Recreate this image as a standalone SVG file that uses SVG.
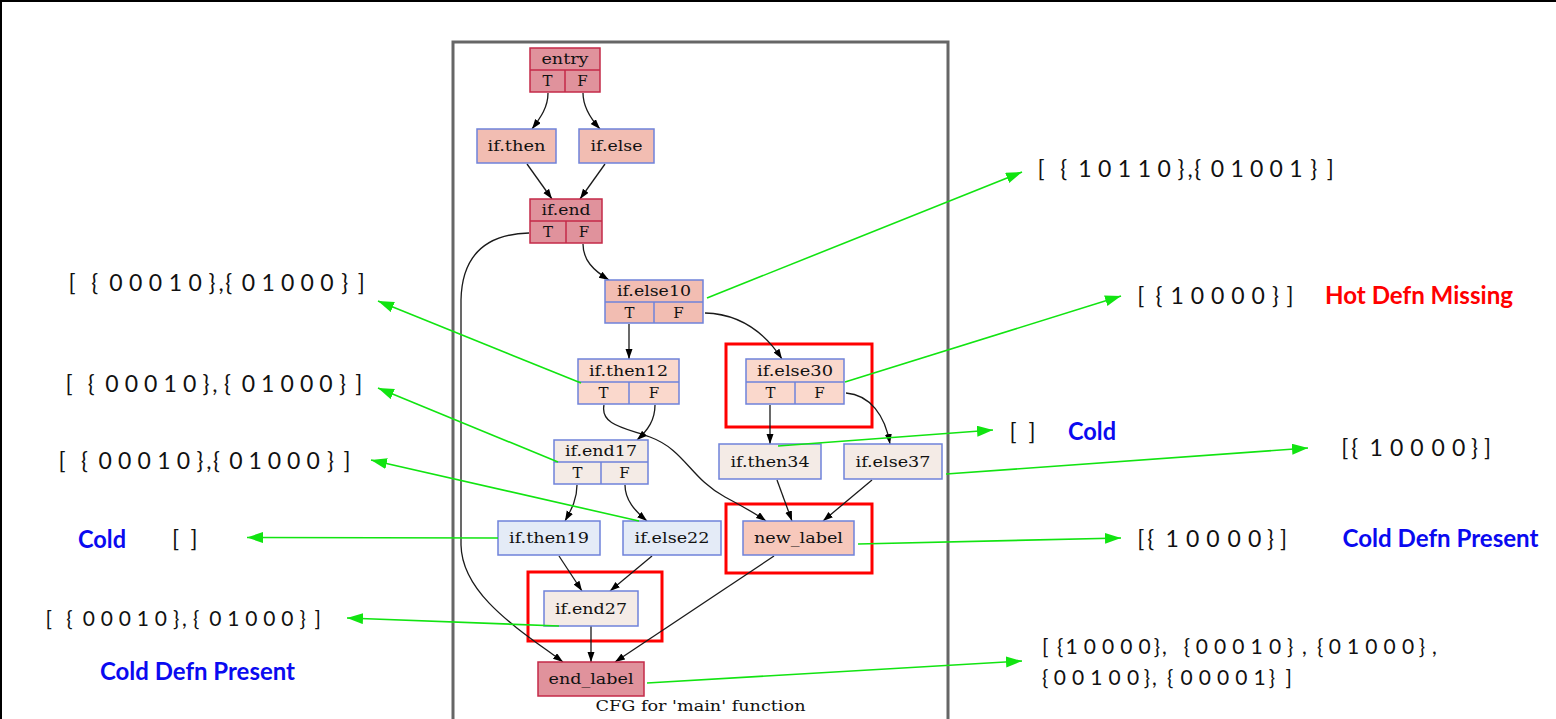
<svg xmlns="http://www.w3.org/2000/svg" width="1556" height="719" viewBox="0 0 1556 719">
<defs>
<marker id="ah" markerUnits="userSpaceOnUse" markerWidth="11" markerHeight="8" refX="10" refY="3.5" orient="auto"><path d="M0,0 L10,3.5 L0,7 z" fill="#000"/></marker>
<marker id="gh" markerUnits="userSpaceOnUse" markerWidth="17" markerHeight="12" refX="16" refY="5.5" orient="auto"><path d="M0,0 L16,5.5 L0,11 z" fill="#11e411"/></marker>
</defs>
<style>
.nd{stroke:#6f82da;stroke-width:1.5}
.red{fill:#e0929c;stroke:#c42a48;stroke-width:1.5}
.sal{fill:#f2bdb2}
.pch{fill:#fad8cc}
.nl{fill:#f7c8bb}
.lt{fill:#f4ebe6}
.bl{fill:#e4ebf7}
.div{stroke-width:1.5;fill:none}
.lab{font-family:"DejaVu Serif",serif;font-size:15px;fill:#111;text-anchor:middle}
.e{fill:none;stroke:#1a1a1a;stroke-width:1.3;marker-end:url(#ah)}
.g{fill:none;stroke:#11e411;stroke-width:1.6;marker-end:url(#gh)}
.t{font-family:Lato,"Open Sans",sans-serif;fill:#111;font-size:23px}
.s{font-size:21px}
.b{font-family:Lato,"Open Sans",sans-serif;font-weight:bold;font-size:24px}
.hl{fill:none;stroke:#ff0000;stroke-width:3}
</style>
<rect x="0" y="0" width="1556" height="719" fill="#fff"/>
<path d="M1,719 L1,1 L1556,1" fill="none" stroke="#000" stroke-width="2"/>
<path d="M453,719 L453,42 L948,42 L948,719" fill="none" stroke="#666" stroke-width="3"/>
<text class="lab" x="700.5" y="711" textLength="210" lengthAdjust="spacingAndGlyphs" style="font-size:14px">CFG for 'main' function</text>

<g id="highlights">
<rect class="hl" x="726" y="344" width="146" height="83"/>
<rect class="hl" x="726" y="504" width="146" height="69"/>
<rect class="hl" x="528" y="572" width="134" height="69"/>
</g>

<g id="connectors">
<path class="e" d="M548,93 C548,107 541,117 532,129"/>
<path class="e" d="M583,93 C583,107 590,118 600,129"/>
<path class="e" d="M527,164 L552,199"/>
<path class="e" d="M605,164 L580,199"/>
<path class="e" d="M529,233 C490,234 462,252 461,300 L461,545 C462,595 520,630 563,662"/>
<path class="e" d="M583,244 C583,260 593,270 609,280"/>
<path class="e" d="M629,324 L629,359"/>
<path class="e" d="M705,313 C740,314 765,333 782,359"/>
<path class="e" d="M604,405 C600,425 625,428 650,437 C685,450 690,478 725,497 C740,505 755,513 766,521"/>
<path class="e" d="M655,405 C655,420 648,430 637,440"/>
<path class="e" d="M770,405 L770,444"/>
<path class="e" d="M846,393 C870,395 885,415 890,444"/>
<path class="e" d="M577,485 C577,500 571,510 565,521"/>
<path class="e" d="M625,485 C625,500 635,511 647,521"/>
<path class="e" d="M777,480 L792,521"/>
<path class="e" d="M872,480 L823,521"/>
<path class="e" d="M559,556 L582,591"/>
<path class="e" d="M652,556 L610,591"/>
<path class="e" d="M591,626 L591,662"/>
<path class="e" d="M774,556 L615,662"/>
</g>

<g id="node-entry">
<rect class="red" x="530" y="48" width="70" height="44"/>
<path d="M530,70 H600 M565,70 V92" stroke="#c42a48" class="div"/>
<text class="lab" x="565" y="64" textLength="47" lengthAdjust="spacingAndGlyphs">entry</text>
<text class="lab" x="547.5" y="86">T</text><text class="lab" x="582.5" y="86">F</text>
</g>
<g id="node-if.then">
<rect class="nd sal" x="477" y="129" width="79" height="34"/>
<text class="lab" x="516.5" y="151" textLength="58" lengthAdjust="spacingAndGlyphs">if.then</text>
</g>
<g id="node-if.else">
<rect class="nd sal" x="579" y="129" width="75" height="34"/>
<text class="lab" x="616.5" y="151" textLength="52" lengthAdjust="spacingAndGlyphs">if.else</text>
</g>
<g id="node-if.end">
<rect class="red" x="530" y="199" width="72" height="44"/>
<path d="M530,221 H602 M566,221 V243" stroke="#c42a48" class="div"/>
<text class="lab" x="566" y="215" textLength="49" lengthAdjust="spacingAndGlyphs">if.end</text>
<text class="lab" x="548" y="237">T</text><text class="lab" x="584" y="237">F</text>
</g>
<g id="node-if.else10">
<rect class="nd sal" x="605" y="280" width="98" height="43"/>
<path d="M605,302 H703 M654,302 V323" stroke="#6f82da" class="div"/>
<text class="lab" x="654" y="296" textLength="74" lengthAdjust="spacingAndGlyphs">if.else10</text>
<text class="lab" x="629.5" y="318">T</text><text class="lab" x="678.5" y="318">F</text>
</g>
<g id="node-if.then12">
<rect class="nd pch" x="578" y="359" width="101" height="45"/>
<path d="M578,382 H679 M629,382 V404" stroke="#6f82da" class="div"/>
<text class="lab" x="628.5" y="375.5" textLength="79" lengthAdjust="spacingAndGlyphs">if.then12</text>
<text class="lab" x="603.5" y="398">T</text><text class="lab" x="654" y="398">F</text>
</g>
<g id="node-if.else30">
<rect class="nd pch" x="746" y="359" width="98" height="45"/>
<path d="M746,382 H844 M795,382 V404" stroke="#6f82da" class="div"/>
<text class="lab" x="795" y="375.5" textLength="76" lengthAdjust="spacingAndGlyphs">if.else30</text>
<text class="lab" x="770.5" y="398">T</text><text class="lab" x="819.5" y="398">F</text>
</g>
<g id="node-if.end17">
<rect class="nd lt" x="554" y="440" width="94" height="44"/>
<path d="M554,462 H648 M601,462 V484" stroke="#6f82da" class="div"/>
<text class="lab" x="601" y="456" textLength="72" lengthAdjust="spacingAndGlyphs">if.end17</text>
<text class="lab" x="577.5" y="478">T</text><text class="lab" x="624.5" y="478">F</text>
</g>
<g id="node-if.then34">
<rect class="nd lt" x="719" y="444" width="102" height="35"/>
<text class="lab" x="770" y="466.5" textLength="79" lengthAdjust="spacingAndGlyphs">if.then34</text>
</g>
<g id="node-if.else37">
<rect class="nd lt" x="844" y="444" width="98" height="35"/>
<text class="lab" x="893" y="466.5" textLength="75" lengthAdjust="spacingAndGlyphs">if.else37</text>
</g>
<g id="node-if.then19">
<rect class="nd bl" x="498" y="521" width="102" height="34"/>
<text class="lab" x="549" y="543" textLength="80" lengthAdjust="spacingAndGlyphs">if.then19</text>
</g>
<g id="node-if.else22">
<rect class="nd bl" x="623" y="521" width="98" height="34"/>
<text class="lab" x="672" y="543" textLength="75" lengthAdjust="spacingAndGlyphs">if.else22</text>
</g>
<g id="node-new_label">
<rect class="nd nl" x="743" y="521" width="111" height="34"/>
<text class="lab" x="798.5" y="543" textLength="89" lengthAdjust="spacingAndGlyphs">new_label</text>
</g>
<g id="node-if.end27">
<rect class="nd lt" x="544" y="591" width="94" height="35"/>
<text class="lab" x="591" y="613.5" textLength="72" lengthAdjust="spacingAndGlyphs">if.end27</text>
</g>
<g id="node-end_label">
<rect class="red" x="538" y="662" width="106" height="34"/>
<text class="lab" x="591" y="684" textLength="85" lengthAdjust="spacingAndGlyphs">end_label</text>
</g>

<g id="annotation-arrows">
<path class="g" d="M707,298 L1022,172"/>
<path class="g" d="M845,382 L1121,296"/>
<path class="g" d="M778,446 L993,430"/>
<path class="g" d="M946,474 L1308,448"/>
<path class="g" d="M858,544 L1121,538"/>
<path class="g" d="M647,683 L1022,661"/>
<path class="g" d="M581,383 L378,301"/>
<path class="g" d="M558,462 L378,388"/>
<path class="g" d="M639,521 L371,460"/>
<path class="g" d="M498,538 L247,537.5"/>
<path class="g" d="M559,626 L347,618"/>
</g>

<g id="annotations">
<text class="t" y="291" x="68.5 80 91.2 109.2 119 129 139 148.8 158.7 168.7 178.6 188.5 208.5 218.5 225.2 241.8 251.6 261.4 271.2 281 290.8 300.6 310.4 320.2 341.2 350 357.8">[ {0 0 0 1 0},{0 1 0 0 0} ]</text>
<text class="t" y="392" x="65.5 77 87.7 105.3 115 124.7 134.4 144.1 153.8 163.5 173.2 182.9 202.5 212.3 218 224.1 241.7 251.4 261.1 270.8 280.5 290.2 299.9 309.6 319.3 338.9 347 355.2">[ {0 0 0 1 0}, {0 1 0 0 0} ]</text>
<text class="t" y="469" x="58.5 69.8 80.9 98.6 108.2 118.1 127.9 137.6 147.3 157.2 166.9 176.7 196.4 206.3 212.9 229.2 238.9 248.5 258.2 267.8 277.5 287.1 296.8 306.4 327.1 335.8 343.5">[ {0 0 0 1 0},{0 1 0 0 0} ]</text>
<text class="b" x="78" y="547.5" fill="#0a0af0" textLength="48" lengthAdjust="spacingAndGlyphs">Cold</text>
<text class="t" y="547" x="172 181 190.5">[ ]</text>
<text class="t s" y="626" x="45.6 56 66.3 82.7 91.7 100.7 109.7 118.7 127.7 136.7 145.7 154.7 172.9 182 187 192.9 209.3 218.3 227.3 236.3 245.3 254.3 263.3 272.3 281.3 299.5 307 314.6">[ {0 0 0 1 0}, {0 1 0 0 0} ]</text>
<text class="b" x="100" y="680" fill="#0a0af0" textLength="195" lengthAdjust="spacingAndGlyphs">Cold Defn Present</text>

<text class="t" y="177" x="1037.5 1049 1060.2 1078.2 1088 1098 1108 1117.8 1127.7 1137.7 1147.6 1157.5 1177.5 1187.5 1194.2 1210.8 1220.6 1230.4 1240.2 1250 1259.8 1269.6 1279.4 1289.2 1310.2 1319 1326.8">[ {1 0 1 1 0},{0 1 0 0 1} ]</text>
<text class="t" y="304" x="1137.2 1148 1155.6 1170.4 1180.5 1190.7 1200.8 1211 1221 1231.3 1241.5 1251.6 1271.9 1280 1286.6">[ {1 0 0 0 0} ]</text>
<text class="b" x="1325" y="303.5" fill="#ff0000" textLength="188" lengthAdjust="spacingAndGlyphs">Hot Defn Missing</text>
<text class="t" y="439.5" x="1009.5 1019 1028.5">[ ]</text>
<text class="b" x="1068" y="439.5" fill="#0a0af0" textLength="48" lengthAdjust="spacingAndGlyphs">Cold</text>
<text class="t" y="455.5" x="1341.2 1351.2 1369.5 1380 1390 1400 1410.3 1421 1431.6 1442 1451.9 1471.1 1484">[{1 0 0 0 0}]</text>
<text class="t" y="546.5" x="1137.2 1147.2 1165.5 1176 1186 1196 1206.3 1217 1227.6 1238 1247.9 1267.1 1280">[{1 0 0 0 0}]</text>
<text class="b" x="1342.5" y="546.5" fill="#0a0af0" textLength="196" lengthAdjust="spacingAndGlyphs">Cold Defn Present</text>
<text class="t s" y="654" x="1042 1050 1057 1065.4 1074.5 1083.7 1093 1102 1111 1120.3 1129.5 1138.6 1153.7 1162 1172 1183.7 1195.7 1205 1214 1223 1232.3 1241.5 1250.6 1259.8 1268.9 1287 1295 1302 1310 1317 1328.7 1338 1347 1356 1365.3 1374.5 1383.6 1392.7 1401.9 1418.7 1432">[ {1 0 0 0 0}, {0 0 0 1 0} , {0 1 0 0 0},</text>
<text class="t s" y="684.5" x="1042 1053.7 1063 1072 1081 1090.3 1099.5 1108.6 1118 1126.9 1143.7 1152 1159 1167 1180.4 1189.5 1198.7 1208 1217 1226 1235.3 1244.5 1253.6 1268.7 1278 1285.4">{0 0 1 0 0}, {0 0 0 0 1} ]</text>
</g>
</svg>
